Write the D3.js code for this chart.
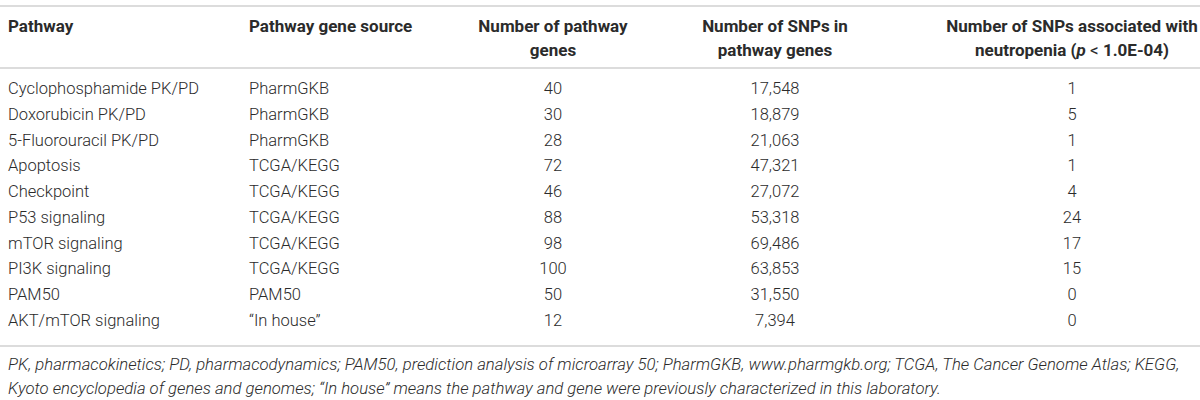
<!DOCTYPE html>
<html>
<head>
<meta charset="utf-8">
<script src="https://cdn.jsdelivr.net/npm/d3@7"></script>
<style>
  body { margin: 0; background: #fff; }
  svg text { font-family: Roboto, "Liberation Sans", sans-serif; fill: #2b2b2b; }
</style>
</head>
<body>
<div id="table"></div>
<script>
// table contents
var pathways = ["Cyclophosphamide PK/PD", "Doxorubicin PK/PD", "5-Fluorouracil PK/PD", "Apoptosis", "Checkpoint",
	"P53 signaling", "mTOR signaling", "PI3K signaling", "PAM50", "AKT/mTOR signaling"]
var sources = ["PharmGKB", "PharmGKB", "PharmGKB", "TCGA/KEGG", "TCGA/KEGG", "TCGA/KEGG", "TCGA/KEGG", "TCGA/KEGG", "PAM50", "\u201cIn house\u201d"]
var geneCounts = [40, 30, 28, 72, 46, 88, 98, 100, 50, 12]
var snpCounts = [17548, 18879, 21063, 47321, 27072, 53318, 69486, 63853, 31550, 7394]
var assocCounts = [1, 5, 1, 1, 4, 24, 17, 15, 0, 0]

var columns = ["pathway", "source", "genes", "snps", "assoc"]
var headerLines = [
	["Pathway"],
	["Pathway gene source"],
	["Number of pathway", "genes"],
	["Number of SNPs in", "pathway genes"],
	["Number of SNPs associated with", "neutropenia (p < 1.0E-04)"]
]
var footnotes = [
	"PK, pharmacokinetics; PD, pharmacodynamics; PAM50, prediction analysis of microarray 50; PharmGKB, www.pharmgkb.org; TCGA, The Cancer Genome Atlas; KEGG,",
	"Kyoto encyclopedia of genes and genomes; \u201cIn house\u201d means the pathway and gene were previously characterized in this laboratory."
]

function drawTable() {
	var svg = d3.select("#table").append("svg").attr("width", 1200).attr("height", 400)

	var x = d3.scaleOrdinal().domain(columns).range([8, 249, 553, 775, 1072])
	var anchor = d3.scaleOrdinal().domain(columns).range(["start", "start", "middle", "middle", "middle"])
	var y = d3.scalePoint().domain(d3.range(pathways.length)).range([94, 326])
	var fmt = d3.format(",")

	// rules
	svg.selectAll("line.rule").data([6, 68, 346]).enter().append("line")
		.attr("x1", 0).attr("x2", 1200)
		.attr("y1", function(d){return d}).attr("y2", function(d){return d})
		.attr("stroke", "#dcdcdc").attr("stroke-width", 2)

	// header
	var head = svg.selectAll("g.head").data(columns).enter().append("g")
		.attr("transform", function(d){return "translate(" + x(d) + ",0)"})
	head.each(function(c, i) {
		var g = d3.select(this)
		headerLines[i].forEach(function(line, j) {
			var t = g.append("text").attr("y", 32 + j * 24).attr("text-anchor", anchor(c))
				.style("font-size", "17px").style("font-weight", 700)
			if (line.indexOf("(p <") >= 0) {
				t.append("tspan").text("neutropenia (")
				t.append("tspan").style("font-style", "italic").text("p")
				t.append("tspan").style("font-weight", 400).text(" < ")
				t.append("tspan").text("1.0E-04)")
			} else {
				t.text(line)
			}
		})
	})

	// body rows
	var rows = pathways.map(function(p, i) {
		return {pathway: p, source: sources[i], genes: geneCounts[i], snps: fmt(snpCounts[i]), assoc: assocCounts[i]}
	})
	var row = svg.selectAll("g.row").data(rows).enter().append("g")
		.attr("transform", function(d, i){return "translate(0," + y(i) + ")"})
	columns.forEach(function(c) {
		row.append("text")
			.attr("x", x(c))
			.attr("text-anchor", anchor(c))
			.style("font-size", "16.5px").style("font-weight", 300)
			.text(function(d){return d[c]})
	})

	// footnote
	svg.selectAll("text.note").data(footnotes).enter().append("text")
		.attr("x", 8).attr("y", function(d, i){return 370 + i * 24})
		.style("font-size", "16.7px").style("font-style", "italic").style("font-weight", 300)
		.text(function(d){return d})
}

drawTable()
</script>
</body>
</html>
